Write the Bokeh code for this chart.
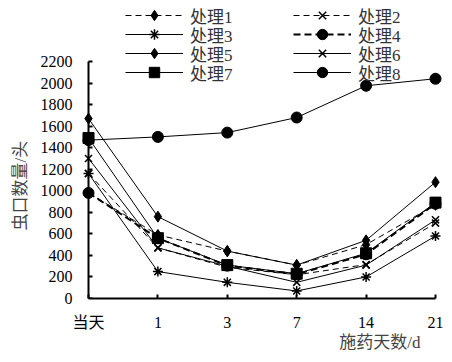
from bokeh.plotting import figure
from bokeh.models import Range1d, Legend, LegendItem, FixedTicker, LinearAxis, Title
from bokeh.embed import file_html
from bokeh.resources import INLINE

categories = ["当天", "1", "3", "7", "14", "21"]
names = ["处理1", "处理2", "处理3", "处理4", "处理5", "处理6", "处理7", "处理8"]
t1 = [980, 590, 440, 310, 500, 870]
t2 = [1160, 470, 290, 220, 315, 700]
t3 = [1160, 250, 150, 70, 200, 580]
t4 = [980, 560, 305, 225, 410, 880]
t5 = [1670, 760, 440, 310, 540, 1080]
t6 = [1300, 470, 300, 150, 310, 730]
t7 = [1490, 560, 310, 230, 420, 890]
t8 = [1470, 1500, 1540, 1680, 1975, 2040]
y_ticks = [0, 200, 400, 600, 800, 1000, 1200, 1400, 1600, 1800, 2000, 2200]

SERIF = "'Liberation Serif', 'Noto Sans CJK SC'"
UX = 347 / 5.0
UY = 237 / 2200.0

xs = list(range(len(categories)))

p = figure(width=452, height=362, output_backend="svg", toolbar_location=None,
           x_range=Range1d(-8 / UX, 5 + 7 / UX), y_range=Range1d(0, 298 / UY),
           min_border_left=80, min_border_right=10, min_border_top=0, min_border_bottom=64)
p.grid.visible = False
p.outline_line_color = None
p.background_fill_color = "white"

xa = p.xaxis[0]
xa.ticker = FixedTicker(ticks=xs)
xa.major_label_overrides = {i: c for i, c in enumerate(categories)}
xa.bounds = (0, len(categories) - 1)
xa.major_tick_in = 4
xa.major_tick_out = 0
xa.minor_tick_line_color = None
xa.major_label_standoff = 15
xa.axis_line_width = 2
xa.major_tick_line_width = 2
xa.major_label_text_font = SERIF
xa.major_label_text_font_size = "16px"
xa.major_label_text_color = "black"

# axis line and ticks placed at the first category
ya = p.yaxis[0]
ya.ticker = FixedTicker(ticks=y_ticks)
ya.fixed_location = 0
ya.bounds = (0, 2200)
ya.major_tick_in = 4
ya.major_tick_out = 0
ya.minor_tick_line_color = None
ya.major_label_standoff = 0
ya.major_label_text_font_size = "1px"
ya.major_label_text_alpha = 0
ya.axis_line_width = 2
ya.major_tick_line_width = 2

# tick labels of the y axis
yl = LinearAxis(ticker=FixedTicker(ticks=y_ticks), axis_line_color=None,
                major_tick_line_color=None, minor_tick_line_color=None,
                major_tick_in=0, major_tick_out=0, major_label_standoff=8,
                major_label_text_font=SERIF, major_label_text_font_size="16px",
                major_label_text_color="black")
p.add_layout(yl, "left")

p.add_layout(Title(text="虫口数量/头", align="left", offset=68, standoff=15,
                   text_font=SERIF, text_font_size="17px", text_font_style="normal",
                   text_color="#444"), "left")
p.add_layout(Title(text="施药天数/d", align="right", offset=22, standoff=-6,
                   text_font=SERIF, text_font_size="17px", text_font_style="normal",
                   text_color="#444"), "below")

specs = [
    (t8, "circle", 11, "solid", 1),
    (t1, "diamond", 11, "6 4", 1),
    (t2, "x", 10, "6 4", 1),
    (t3, "asterisk", 10, "solid", 1),
    (t4, "circle", 11, "7 4", 2),
    (t5, "diamond", 11, "solid", 1),
    (t6, "x", 10, "solid", 1),
    (t7, "square", 11, "solid", 1),
]
order = [7, 0, 1, 2, 3, 4, 5, 6]  # index into names
items = {}
for (ys, mk, sz, dash, lw), idx in zip(specs, order):
    lr = p.line(xs, ys, line_color="black", line_width=lw, line_dash=dash)
    mr = p.scatter(xs, ys, marker=mk, size=sz, fill_color="black", line_color="black",
                   line_width=1.5 if mk in ("x", "asterisk") else 1)
    items[idx] = LegendItem(label=names[idx], renderers=[lr, mr])

row_centers = [15, 34, 53, 72]
col_left = [45, 213]
ITEM_H = 26
for i in range(len(names)):
    row, col = i // 2, i % 2
    lg = Legend(items=[items[i]],
                location=(col_left[col], 298 - row_centers[row] - ITEM_H / 2),
                orientation="vertical", border_line_alpha=0, background_fill_alpha=0,
                padding=0, margin=0, spacing=0, glyph_width=58, glyph_height=ITEM_H,
                label_height=ITEM_H, label_standoff=7, label_text_font=SERIF,
                label_text_font_size="17px", label_text_color="#333",
                label_text_baseline="middle")
    p.add_layout(lg, "center")

open("out.html", "w").write(file_html(p, INLINE))
